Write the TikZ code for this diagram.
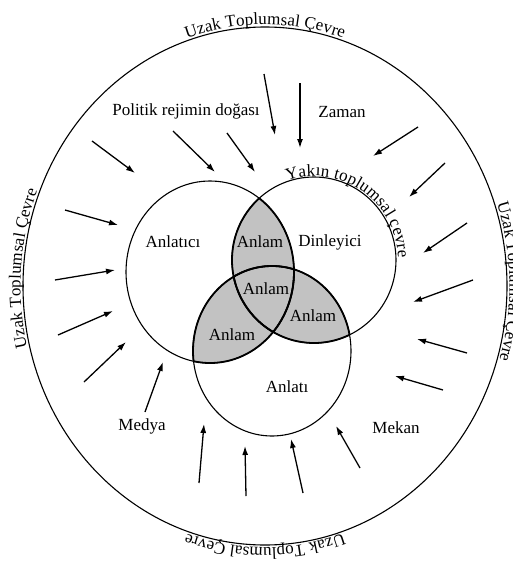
\documentclass[tikz,border=0pt]{standalone}
\usepackage{fontspec}
\setmainfont{Liberation Serif}
\usetikzlibrary{arrows.meta,decorations.text}
\newcommand\utcfont{\fontsize{17}{20}\selectfont}
\begin{document}
\begin{tikzpicture}[x=1pt,y=-1pt,
  lbl/.style={font=\fontsize{17}{20}\selectfont, inner sep=0pt},
  vennline/.style={line width=1.1pt},
  lensedge/.style={line width=1.8pt},
  infl/.style={line width=1.3pt, -{Latex[length=9pt,width=6pt]}},
  lensfill/.style={fill=black!24},
  ringtext/.style={decorate, decoration={text along path, text align=center, raise=2.5pt, text={|\utcfont|#1}}}
]
\useasboundingbox (0,0) rectangle (513,568);
\fill[white] (0,0) rectangle (513,568);

\def\circA{(210,272) ellipse [x radius=84, y radius=91]}
\def\circB{(314,260) ellipse [x radius=82, y radius=83]}
\def\circC{(272,351) ellipse [x radius=79, y radius=85]}

% shaded overlaps
\begin{scope}
  \clip \circA;
  \fill[lensfill] \circB;
  \fill[lensfill] \circC;
\end{scope}
\begin{scope}
  \clip \circB;
  \fill[lensfill] \circC;
\end{scope}

% circles
\draw[vennline] \circA;
\draw[vennline] \circB;
\draw[vennline] \circC;

% thicker edges of the overlaps
\begin{scope}\clip \circB; \draw[lensedge] \circA; \draw[lensedge] \circC; \end{scope}
\begin{scope}\clip \circA; \draw[lensedge] \circB; \draw[lensedge] \circC; \end{scope}
\begin{scope}\clip \circC; \draw[lensedge] \circA; \draw[lensedge] \circB; \end{scope}

% outer ellipse
\draw[line width=1.1pt] (265,286) ellipse [x radius=242, y radius=259];

% texts on the outer ellipse
\path[ringtext={Uzak Toplumsal Çevre}] (265,286) ++(-130:242 and 259) arc[start angle=-130, end angle=-50, x radius=242, y radius=259];
\path[ringtext={Uzak Toplumsal Çevre}] (265,286) ++(-41:242 and 259) arc[start angle=-41, end angle=39, x radius=242, y radius=259];
\path[ringtext={Uzak Toplumsal Çevre}] (265,286) ++(50:242 and 259) arc[start angle=50, end angle=130, x radius=242, y radius=259];
\path[ringtext={Uzak Toplumsal Çevre}] (265,286) ++(144:242 and 259) arc[start angle=144, end angle=224, x radius=242, y radius=259];

% text on the right circle
\path[decorate, decoration={text along path, text align=center, raise=2pt, text={|\utcfont|Yakın toplumsal çevre}}] (314,260) ++(-118:82) arc[start angle=-118, end angle=8, radius=82];

% labels
\node[lbl] (pol) at (186,111) {Politik rejimin doğası};
\node[lbl] (zaman) at (342,112) {Zaman};
\node[lbl] (anlatici) at (173,242) {Anlatıcı};
\node[lbl] (dinleyici) at (330,242) {Dinleyici};
\node[lbl] (anlamAB) at (260,242) {Anlam};
\node[lbl] (anlamABC) at (266,289) {Anlam};
\node[lbl] (anlamBC) at (313,316) {Anlam};
\node[lbl] (anlamAC) at (232,335) {Anlam};
\node[lbl] (anlati) at (287,387) {Anlatı};
\node[lbl] (medya) at (142,426) {Medya};
\node[lbl] (mekan) at (396,428) {Mekan};

% influence arrows
\foreach \n/\tx/\ty/\hx/\hy in {
  1/92/141/135/173, 2/173/131/215/172, 3/227/133/255/172, 4/264/74/275/135,
  5/300/83/300/148, 6/418/127/373/156, 7/445/163/409/197,
  8/65/210/118/225, 9/55/280/115/270, 10/58/335/113/311, 11/84/382/126/342,
  12/145/412/163/362,
  14/467/223/423/253, 15/473/280/413/302, 16/467/353/417/339, 17/443/390/395/376,
  18/199/483/204/424, 19/246/496/245/446, 20/303/493/291/439, 21/360/468/336/426}{
  \coordinate (t\n) at (\tx,\ty);
  \coordinate (h\n) at (\hx,\hy);
  \draw[infl] (t\n) -- (h\n);
}
\end{tikzpicture}
\end{document}
